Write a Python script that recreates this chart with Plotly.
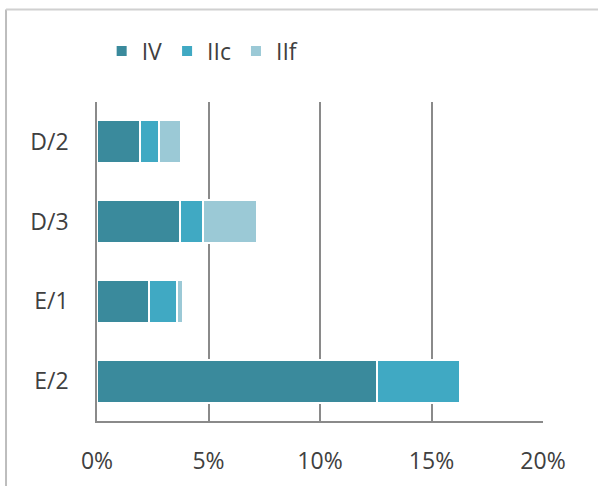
import plotly.graph_objects as go

categories = ["D/2", "D/3", "E/1", "E/2"]
series_names = ["IV", "IIc", "IIf"]
iv_values = [1.93, 3.72, 2.33, 12.56]
iic_values = [0.85, 1.03, 1.26, 3.72]
iif_values = [0.99, 2.42, 0.27, 0.0]
tick_vals = [0, 5, 10, 15, 20]
tick_text = ["0%", "5%", "10%", "15%", "20%"]

colors = ["#3a8a9c", "#40a9c3", "#9bc9d6"]
FONT = "Open Sans, Liberation Sans, sans-serif"

fig = go.Figure()
for name, vals, col in zip(series_names, [iv_values, iic_values, iif_values], colors):
    fig.add_trace(go.Bar(
        y=categories, x=vals, name=name, orientation="h",
        marker=dict(color=col, line=dict(color="white", width=2)),
    ))

fig.update_layout(
    width=598, height=486,
    barmode="stack", bargap=0.46,
    paper_bgcolor="white", plot_bgcolor="white",
    margin=dict(l=97, r=55, t=102, b=65),
    font=dict(family=FONT, size=23, color="#404040"),
    showlegend=True,
    legend=dict(
        orientation="h", xref="container", yref="container",
        x=0.17, y=0.895, xanchor="left", yanchor="middle",
        font=dict(size=23, color="#404040"), traceorder="normal",
        itemwidth=30, tracegroupgap=0,
    ),
    xaxis=dict(
        range=[0, 20], tickvals=tick_vals, ticktext=tick_text,
        showgrid=True, gridcolor="#8a8a8a", gridwidth=1.5,
        showline=True, linecolor="#8a8a8a", linewidth=1.5,
        zeroline=False, ticks="", ticklen=0,
        tickfont=dict(size=23, color="#404040"),
        ticklabelstandoff=19, automargin=False,
    ),
    yaxis=dict(
        categoryorder="array", categoryarray=categories, autorange="reversed",
        showgrid=False, showline=True, linecolor="#8a8a8a", linewidth=1.5,
        ticks="", tickfont=dict(size=23, color="#404040"),
        ticklabelstandoff=22, automargin=False,
    ),
    shapes=[
        dict(type="line", xref="paper", yref="paper",
             x0=-0.204, x1=-0.204, y0=1.29, y1=-0.3,
             line=dict(color="#bdbdbd", width=2)),
        dict(type="line", xref="paper", yref="paper",
             x0=-0.204, x1=1.2, y0=1.29, y1=1.29,
             line=dict(color="#d0d0d0", width=2)),
    ],
)

fig.write_html("out.html")
